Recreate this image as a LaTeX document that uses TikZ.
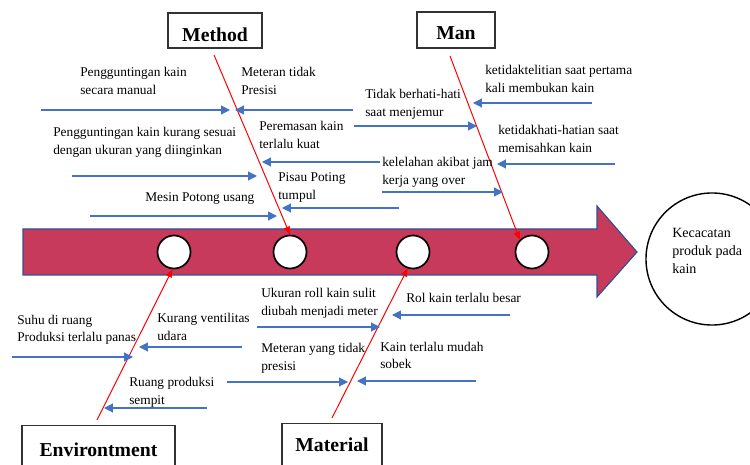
\documentclass[tikz,border=0pt]{standalone}
\usepackage{fontspec}
\setmainfont{Liberation Serif}
\usepackage{tikz}
\usetikzlibrary{shapes,arrows.meta}
\definecolor{causeblue}{RGB}{68,114,196}
\definecolor{spinefill}{RGB}{200,58,92}
\definecolor{spineline}{RGB}{47,82,143}
\tikzstyle{spine} = [fill=spinefill, draw=spineline, line width=0.8pt]
\tikzstyle{joint} = [circle, draw=black, fill=white, line width=1.2pt, minimum size=0.825cm, inner sep=0pt]
\tikzstyle{effect} = [circle, draw=black, line width=1pt, minimum size=3.3cm, inner sep=0pt]
\tikzstyle{category} = [rectangle, draw=black!80, line width=0.8pt, inner sep=0pt, font=\fontsize{14}{16}\selectfont\bfseries]
\tikzstyle{cause} = [align=left, inner sep=0pt, anchor=base west, font=\fontsize{9.5}{12.8}\selectfont]
\tikzstyle{bone} = [red, line width=0.7pt, -{Triangle[length=2mm,width=1.6mm]}]
\tikzstyle{arrow} = [causeblue, line width=0.8pt, -{Triangle[length=2.2mm,width=2.2mm]}]

\begin{document}
\begin{tikzpicture}[x=0.025cm,y=-0.025cm]
		\useasboundingbox (0,0) rectangle (750,465);
		\clip (0,0) rectangle (750,465);
		
		% spine and effect
		\draw [spine] (23,229) -- (597,229) -- (597,206) -- (637,252) -- (597,297) -- (597,275) -- (23,275) -- cycle;
		\node (c1) [joint] at (174,252) {};
		\node (c2) [joint] at (290,252) {};
		\node (c3) [joint] at (413,252) {};
		\node (c4) [joint] at (532,252) {};
		\node (effect) [effect] at (712,259) {};
		\node (effect-text) [cause,font=\fontsize{10}{13.1}\selectfont] at (672,274) {Kecacatan\\produk pada\\kain};
		
		% categories
		\node (method) [category,minimum width=2.35cm,minimum height=0.875cm,text height=0.55cm,text depth=0cm] at (215,30.5) {Method};
		\node (man) [category,minimum width=1.95cm,minimum height=0.9cm,text height=0.5cm,text depth=0cm] at (456,30) {Man};
		\node (environtment) [category,anchor=north,minimum width=3.825cm,text height=0.775cm,text depth=0.7cm] at (98.5,425) {Environtment};
		\node (material) [category,anchor=north,minimum width=2.5cm,text height=0.7cm,text depth=0.7cm] at (332,423) {Material};
		
		\coordinate (method-tail) at (214,55);
		\coordinate (man-tail) at (450,56);
		\coordinate (environtment-tail) at (97,420);
		\coordinate (material-tail) at (332,418);
		\draw [bone] (method-tail) -- (c2.north);
		\draw [bone] (man-tail) -- (c4.135);
		\draw [bone] (environtment-tail) -- (c1.265);
		\draw [bone] (material-tail) -- (c3.252);
		
		% method causes
		\node (manual) [cause] at (80,95) {Pengguntingan kain\\secara manual};
		\node (meteran) [cause] at (241,95) {Meteran tidak\\Presisi};
		\node (ukuran) [cause] at (53,155) {Pengguntingan kain kurang sesuai\\dengan ukuran yang diinginkan};
		\node (peremasan) [cause] at (259,149) {Peremasan kain\\terlalu kuat};
		\node (pisau) [cause] at (278,200) {Pisau Poting\\tumpul};
		\node (mesin) [cause] at (145,202) {Mesin Potong usang};
		
		\coordinate (manual-from) at (41,110);
		\coordinate (manual-to) at (230,110);
		\coordinate (meteran-from) at (353,110);
		\coordinate (meteran-to) at (235,110);
		\coordinate (ukuran-from) at (72,176);
		\coordinate (ukuran-to) at (257,176);
		\coordinate (kelelahan-from) at (380,162);
		\coordinate (kelelahan-to) at (262,162);
		\coordinate (pisau-from) at (399,208);
		\coordinate (pisau-to) at (282,208);
		\coordinate (mesin-from) at (90,216);
		\coordinate (mesin-to) at (277,216);
		\draw [arrow] (manual-from) -- (manual-to);
		\draw [arrow] (meteran-from) -- (meteran-to);
		\draw [arrow] (ukuran-from) -- (ukuran-to);
		\draw [arrow] (kelelahan-from) -- (kelelahan-to);
		\draw [arrow] (pisau-from) -- (pisau-to);
		\draw [arrow] (mesin-from) -- (mesin-to);
		
		% man causes
		\node (menjemur) [cause] at (365,117) {Tidak berhati-hati\\saat menjemur};
		\node (teliti) [cause] at (485,93) {ketidaktelitian saat pertama\\kali membukan kain};
		\node (memisahkan) [cause] at (498,153) {ketidakhati-hatian saat\\memisahkan kain};
		\node (kelelahan) [cause] at (382,185) {kelelahan akibat jam\\kerja yang over};
		
		\coordinate (peremasan-from) at (354,126);
		\coordinate (peremasan-to) at (477,126);
		\coordinate (teliti-from) at (592,103);
		\coordinate (teliti-to) at (473,103);
		\coordinate (memisahkan-from) at (615,164);
		\coordinate (memisahkan-to) at (497,164);
		\coordinate (over-from) at (382,192);
		\coordinate (over-to) at (503,192);
		\draw [arrow] (peremasan-from) -- (peremasan-to);
		\draw [arrow] (teliti-from) -- (teliti-to);
		\draw [arrow] (memisahkan-from) -- (memisahkan-to);
		\draw [arrow] (over-from) -- (over-to);
		
		% environtment causes
		\node (suhu) [cause] at (17,342) {Suhu di ruang\\Produksi terlalu panas};
		\node (ventilitas) [cause] at (157,341) {Kurang ventilitas\\udara};
		\node (sempit) [cause] at (129,404) {Ruang produksi\\sempit};
		
		\coordinate (suhu-from) at (12,357);
		\coordinate (suhu-to) at (133,357);
		\coordinate (ventilitas-from) at (242,347);
		\coordinate (ventilitas-to) at (139,347);
		\coordinate (sempit-from) at (207,408);
		\coordinate (sempit-to) at (104,408);
		\draw [arrow] (suhu-from) -- (suhu-to);
		\draw [arrow] (ventilitas-from) -- (ventilitas-to);
		\draw [arrow] (sempit-from) -- (sempit-to);
		
		% material causes
		\node (roll) [cause] at (261,316) {Ukuran roll kain sulit\\diubah menjadi meter};
		\node (besar) [cause] at (406,303) {Rol kain terlalu besar};
		\node (presisi) [cause] at (261,370) {Meteran yang tidak\\presisi};
		\node (sobek) [cause] at (380,369) {Kain terlalu mudah\\sobek};
		
		\coordinate (roll-from) at (257,327);
		\coordinate (roll-to) at (380,327);
		\coordinate (besar-from) at (510,315);
		\coordinate (besar-to) at (392,315);
		\coordinate (presisi-from) at (227,382);
		\coordinate (presisi-to) at (348,382);
		\coordinate (sobek-from) at (476,381);
		\coordinate (sobek-to) at (357,381);
		\draw [arrow] (roll-from) -- (roll-to);
		\draw [arrow] (besar-from) -- (besar-to);
		\draw [arrow] (presisi-from) -- (presisi-to);
		\draw [arrow] (sobek-from) -- (sobek-to);
		
	\end{tikzpicture}
\end{document}
